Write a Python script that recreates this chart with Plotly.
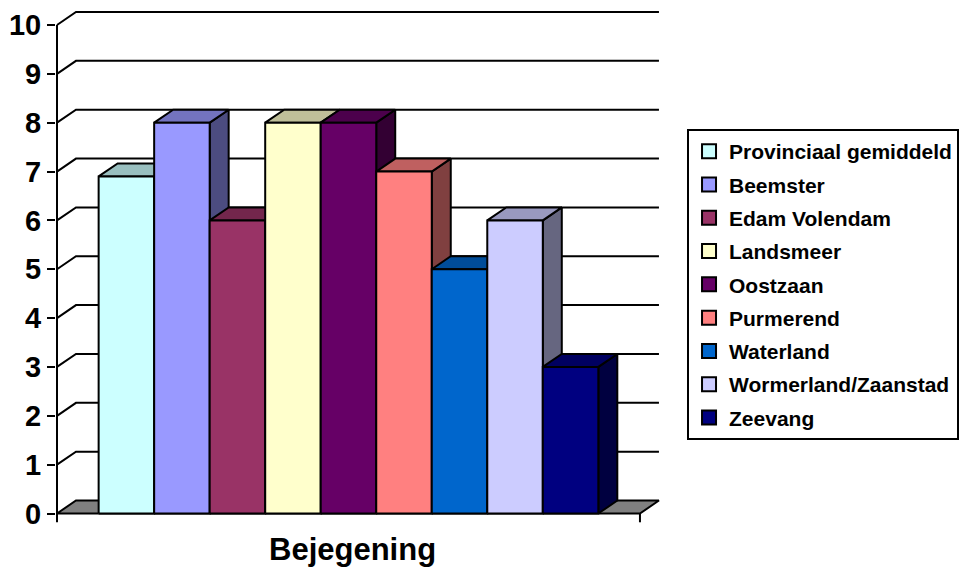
import plotly.graph_objects as go

# Scores per municipality for the "Bejegening" theme
municipalities = [
    "Provinciaal gemiddeld",
    "Beemster",
    "Edam Volendam",
    "Landsmeer",
    "Oostzaan",
    "Purmerend",
    "Waterland",
    "Wormerland/Zaanstad",
    "Zeevang",
]
scores = [6.9, 8, 6, 8, 8, 7, 5, 6, 3]
category_label = "Bejegening"
score_ticks = [0, 1, 2, 3, 4, 5, 6, 7, 8, 9, 10]

bar_colors = [
    "#CCFFFF", "#9999FF", "#993366", "#FFFFCC", "#660066",
    "#FF8080", "#0066CC", "#CCCCFF", "#000080",
]

FONT = "Liberation Sans, Arial, Helvetica, sans-serif"

# Pseudo-3D geometry (in axis units)
GAP = 0.75            # space between wall and first/last column
BAR_W = 1.0           # column width
SPAN = len(scores) * BAR_W + 2 * GAP
DX, DY = 0.342, 0.266  # depth offset of the back plane
TICK_DROP = 0.18


def shade(hex_color, factor):
    h = hex_color.lstrip("#")
    r, g, b = (int(h[k:k + 2], 16) for k in (0, 2, 4))
    return "#{:02X}{:02X}{:02X}".format(
        int(round(r * factor)), int(round(g * factor)), int(round(b * factor))
    )


def poly(xs, ys, fill):
    return go.Scatter(
        x=xs, y=ys, mode="lines", fill="toself", fillcolor=fill,
        line=dict(color="black", width=2), showlegend=False,
        hoverinfo="skip",
    )


fig = go.Figure()

# Floor
fig.add_trace(poly([0, SPAN, SPAN + DX, DX, 0], [0, 0, DY, DY, 0], "#808080"))

# Wall gridlines (side wall diagonal + back wall horizontal)
gx, gy = [], []
for v in score_ticks[1:]:
    gx += [0, DX, SPAN + DX, None]
    gy += [v, v + DY, v + DY, None]
fig.add_trace(go.Scatter(
    x=gx, y=gy, mode="lines", line=dict(color="black", width=2),
    showlegend=False, hoverinfo="skip",
))

# Front value axis and category boundary ticks
fig.add_trace(go.Scatter(
    x=[0, 0, None, SPAN, SPAN],
    y=[max(score_ticks), -TICK_DROP, None, 0, -TICK_DROP],
    mode="lines", line=dict(color="black", width=2),
    showlegend=False, hoverinfo="skip",
))

# Columns: side, top, then front face, drawn left to right
for i, (name, val, col) in enumerate(zip(municipalities, scores, bar_colors)):
    x0 = GAP + i * BAR_W
    x1 = x0 + BAR_W
    fig.add_trace(poly([x1, x1 + DX, x1 + DX, x1, x1],
                       [0, DY, val + DY, val, 0], shade(col, 0.5)))
    fig.add_trace(poly([x0, x1, x1 + DX, x0 + DX, x0],
                       [val, val, val + DY, val + DY, val], shade(col, 0.75)))
    front = poly([x0, x1, x1, x0, x0], [0, 0, val, val, 0], col)
    front.hoverinfo = "text"
    front.text = f"{name}: {val}"
    front.hoveron = "fills"
    fig.add_trace(front)

# Legend entries
for name, col in zip(municipalities, bar_colors):
    fig.add_trace(go.Scatter(
        x=[None], y=[None], mode="markers", name=name, legendgroup=name,
        marker=dict(symbol="square", size=14, color=col,
                    line=dict(color="black", width=2)),
    ))

PX_PER_X = 55.52
fig.update_layout(
    width=960, height=571,
    margin=dict(l=56, r=298, t=8, b=45, autoexpand=False),
    paper_bgcolor="white", plot_bgcolor="white",
    font=dict(family=FONT, color="black"),
    xaxis=dict(range=[-1 / PX_PER_X, -1 / PX_PER_X + 606 / PX_PER_X],
               visible=False, fixedrange=True),
    yaxis=dict(range=[-0.2559, 10.348], tickvals=score_ticks,
               ticks="outside", ticklen=8, tickwidth=2, tickcolor="black",
               showgrid=False, zeroline=False, showline=False,
               tickfont=dict(family=FONT, size=29, color="black", weight="bold"),
               fixedrange=True),
    showlegend=True,
    legend=dict(
        x=1.0413, y=0.7664, xanchor="left", yanchor="top",
        bgcolor="white", bordercolor="black", borderwidth=2,
        font=dict(family=FONT, size=21, color="black", weight="bold"),
        tracegroupgap=3,
    ),
    annotations=[dict(
        text=category_label, xref="x", yref="paper", x=SPAN / 2, y=0,
        xshift=4, yshift=-23, xanchor="center", yanchor="middle",
        showarrow=False,
        font=dict(family=FONT, size=31, color="black", weight="bold"),
    )],
)

fig.write_html("out.html")
